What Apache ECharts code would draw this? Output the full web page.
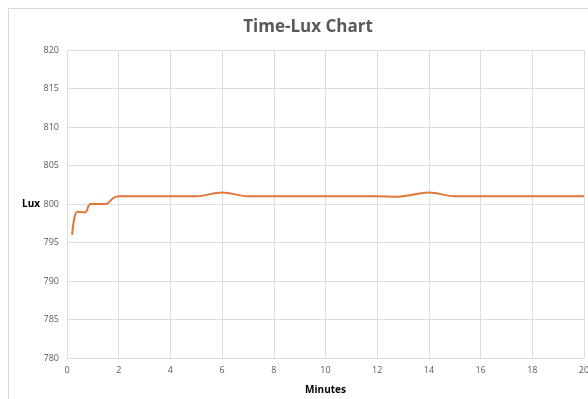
<!DOCTYPE html>
<html>
<head>
<meta charset="utf-8">
<script src="https://cdn.jsdelivr.net/npm/echarts@6/dist/echarts.min.js"></script>
<style>
  html, body { margin: 0; padding: 0; background: #fff; }
  #chart { width: 588px; height: 399px; }
</style>
</head>
<body>
<div id="chart"></div>
<script>
// Light readings (lux) over time (minutes)
const minutes = [0.2, 0.4, 0.7, 0.9, 1.2, 1.5, 1.8, 2.0, 3, 4, 5, 6, 7, 8, 9, 10, 11, 12, 12.8, 14, 15, 16, 17, 18, 19, 20];
const lux     = [796, 799, 798.9, 800, 800, 800, 800.8, 801, 801, 801, 801, 801.5, 801, 801, 801, 801, 801, 801, 800.95, 801.5, 801, 801, 801, 801, 801, 801];

const xTicks = { min: 0, max: 20, interval: 2 };
const yTicks = { min: 780, max: 820, interval: 5 };

const chart = echarts.init(document.getElementById('chart'), null, { renderer: 'canvas' });

const gridColor = '#dedede';
const labelColor = '#595959';
const font = '"Open Sans", "Noto Sans", sans-serif';

chart.setOption({
  animation: false,
  backgroundColor: '#fff',
  graphic: [{
    type: 'rect',
    shape: { x: 8.5, y: 8.5, width: 620, height: 420 },
    style: { fill: 'none', stroke: '#d9d9d9', lineWidth: 1 },
    silent: true
  }],
  title: {
    text: 'Time-Lux Chart',
    left: 303,
    top: 14,
    textAlign: 'center',
    textStyle: { color: labelColor, fontSize: 17, fontWeight: 'bold', fontFamily: font }
  },
  grid: { left: 67, right: 4, top: 50, bottom: 41, containLabel: false, outerBoundsMode: 'none' },
  xAxis: {
    type: 'value',
    min: xTicks.min, max: xTicks.max, interval: xTicks.interval,
    name: 'Minutes',
    nameLocation: 'middle',
    nameGap: 27,
    nameMoveOverlap: false,
    nameTextStyle: { color: '#000', fontSize: 10, fontWeight: 'bold', fontFamily: font },
    axisLine: { show: true, lineStyle: { color: gridColor } },
    axisTick: { show: false },
    axisLabel: { color: labelColor, fontSize: 9, margin: 8, fontFamily: font },
    splitLine: { show: true, lineStyle: { color: gridColor, width: 1 } }
  },
  yAxis: {
    type: 'value',
    min: yTicks.min, max: yTicks.max, interval: yTicks.interval,
    name: 'Lux',
    nameLocation: 'middle',
    nameRotate: 0,
    nameGap: 27,
    nameMoveOverlap: false,
    nameTextStyle: { color: '#000', fontSize: 10, fontWeight: 'bold', fontFamily: font },
    axisLine: { show: true, lineStyle: { color: gridColor } },
    axisTick: { show: false },
    axisLabel: { color: labelColor, fontSize: 9, margin: 8, fontFamily: font },
    splitLine: { show: true, lineStyle: { color: gridColor, width: 1 } }
  },
  series: [{
    type: 'line',
    data: minutes.map((m, i) => [m, lux[i]]),
    smooth: 0.35,
    showSymbol: false,
    lineStyle: { color: '#E0783A', width: 2 },
    itemStyle: { color: '#E0783A' }
  }]
});
</script>
</body>
</html>
